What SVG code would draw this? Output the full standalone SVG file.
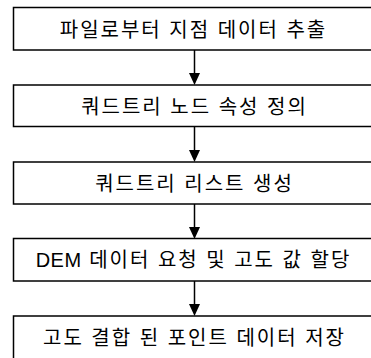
<svg xmlns="http://www.w3.org/2000/svg" width="371" height="358" viewBox="0 0 371 358">
<style>
.box{fill:#fff;stroke:#000;stroke-width:1.5}
.lbl{font-family:"Liberation Sans","Noto Sans CJK KR",sans-serif;font-size:20px;letter-spacing:2px;fill:#000;text-anchor:middle}
.lat{letter-spacing:0.5px}
.edge{stroke:#000;stroke-width:1.5;fill:none}
.head{fill:#000}
</style>
<rect width="371" height="358" fill="#fff"/>
<g id="connectors">
<line class="edge" x1="194.5" y1="50" x2="194.5" y2="75"/>
<polygon class="head" points="189,73 200,73 194.5,85"/>
<line class="edge" x1="194.5" y1="127" x2="194.5" y2="152"/>
<polygon class="head" points="189,150 200,150 194.5,162"/>
<line class="edge" x1="194.5" y1="204" x2="194.5" y2="229"/>
<polygon class="head" points="189,227 200,227 194.5,239"/>
<line class="edge" x1="194.5" y1="281" x2="194.5" y2="306"/>
<polygon class="head" points="189,304 200,304 194.5,316"/>
</g>
<g id="n1"><rect class="box" x="13.5" y="7.5" width="362" height="42.5"/><text class="lbl" x="193.5" y="37">파일로부터 지점 데이터 추출</text></g>
<g id="n2"><rect class="box" x="13.5" y="85" width="362" height="41.5"/><text class="lbl" x="194.5" y="113.5">쿼드트리 노드 속성 정의</text></g>
<g id="n3"><rect class="box" x="13.5" y="162" width="362" height="42"/><text class="lbl" x="194.5" y="190.5">쿼드트리 리스트 생성</text></g>
<g id="n4"><rect class="box" x="13.5" y="238.5" width="362" height="42.5"/><text class="lbl" x="193.5" y="267"><tspan class="lat">DEM</tspan> 데이터 요청 및 고도 값 할당</text></g>
<g id="n5"><rect class="box" x="13.5" y="316" width="362" height="43"/><text class="lbl" x="194.5" y="344.5">고도 결합 된 포인트 데이터 저장</text></g>
</svg>
